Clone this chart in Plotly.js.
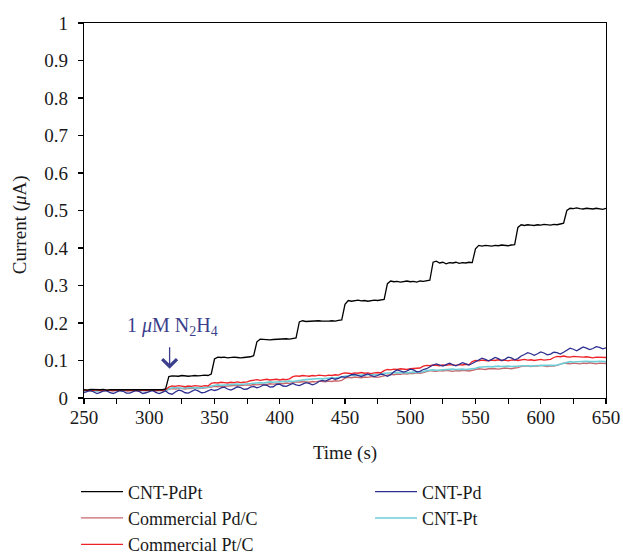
<!DOCTYPE html>
<html>
<head>
<meta charset="utf-8">
<script src="https://cdn.plot.ly/plotly-3.0.1.min.js"></script>
<style>
  html, body { margin: 0; padding: 0; background: #ffffff; }
  #chart { width: 623px; height: 555px; }
</style>
</head>
<body>
<div id="chart"></div>
<script>
// Amperometric response, one sample every 2.5 s from 250 s to 650 s
const T_START = 250;
const T_STEP = 2.5;

// Current (µA) for each electrode
const cntPdPt = [
  0.022,0.021,0.023,0.022,0.021,0.022,0.023,0.021,0.022,0.022,
  0.021,0.023,0.022,0.021,0.022,0.023,0.022,0.021,0.022,0.023,
  0.022,0.021,0.022,0.023,0.022,0.024,
  0.057,0.059,0.058,0.058,0.060,0.059,0.058,0.059,0.060,0.059,0.060,0.061,0.060,0.064,
  0.104,0.109,0.108,0.109,0.107,0.108,0.109,0.108,0.107,0.108,0.109,0.110,0.113,
  0.150,0.157,0.156,0.157,0.155,0.156,0.157,0.156,0.157,0.158,0.157,0.158,0.160,
  0.203,0.206,0.204,0.205,0.204,0.205,0.206,0.205,0.204,0.205,0.206,0.205,0.207,0.208,
  0.250,0.260,0.258,0.259,0.261,0.259,0.260,0.258,0.260,0.261,0.260,0.262,0.263,
  0.305,0.312,0.310,0.311,0.309,0.311,0.312,0.310,0.311,0.309,0.312,0.311,0.313,0.314,
  0.362,0.365,0.360,0.362,0.358,0.361,0.360,0.362,0.359,0.361,0.360,0.362,0.361,
  0.398,0.407,0.405,0.407,0.406,0.405,0.407,0.406,0.408,0.407,0.406,0.408,0.409,
  0.455,0.462,0.460,0.462,0.461,0.460,0.462,0.461,0.463,0.462,0.461,0.463,0.462,0.464,0.466,
  0.500,0.506,0.505,0.507,0.505,0.504,0.506,0.505,0.504,0.506,0.505,0.503,0.506
];

const cntPd = [
  0.014,0.018,0.020,0.016,0.012,0.015,0.019,0.019,0.014,0.012,
  0.016,0.020,0.018,0.013,0.013,0.017,0.020,0.017,0.012,0.014,
  0.018,0.020,0.015,0.012,0.015,0.019,
  0.012,0.010,0.016,0.021,0.019,0.014,0.013,0.018,0.022,0.019,0.014,0.015,0.020,0.023,
  0.020,0.022,0.027,0.029,0.024,0.021,0.025,0.030,0.028,0.023,0.024,0.029,0.031,
  0.027,0.030,0.035,0.034,0.029,0.030,0.036,0.037,0.032,0.031,
  0.036,0.039,0.035,0.033,0.037,0.041,0.039,0.035,0.038,
  0.044,0.047,0.045,0.049,0.053,0.050,0.052,0.057,0.055,
  0.058,0.062,0.063,0.059,0.057,0.061,0.064,0.060,0.057,0.060,0.064,0.062,0.058,0.062,
  0.070,0.075,0.073,0.069,0.072,0.077,0.075,0.070,0.071,0.076,0.078,
  0.084,0.088,0.091,0.087,0.085,0.089,0.093,0.089,0.086,0.090,0.094,0.091,0.088,0.092,0.097,
  0.101,0.106,0.103,0.099,0.103,0.108,0.105,0.100,0.103,0.109,0.107,0.102,0.105,0.112,
  0.116,0.121,0.118,0.114,0.118,0.123,0.120,0.115,0.117,0.122,0.121,0.117,0.122,
  0.128,0.133,0.130,0.126,0.131,0.136,0.133,0.129,0.132,0.137,0.135,0.131,0.134
];

const commercialPdC = [
  0.019,0.020,0.021,0.020,0.019,0.020,0.021,0.019,0.020,0.021,
  0.020,0.019,0.021,0.020,0.020,0.021,0.019,0.020,0.021,0.020,
  0.019,0.021,0.020,0.020,0.021,0.020,
  0.023,0.025,0.024,0.026,0.025,0.024,0.026,0.025,0.027,0.025,0.026,0.027,0.026,
  0.029,0.031,0.030,0.032,0.031,0.032,0.033,0.032,0.034,0.033,
  0.034,0.035,0.034,0.036,0.035,0.036,0.037,0.036,0.038,0.037,
  0.038,0.039,0.038,0.040,0.039,
  0.042,0.043,0.042,0.044,0.043,0.042,0.044,0.043,0.045,0.044,0.043,0.045,0.044,0.046,0.045,0.047,
  0.053,0.055,0.054,0.056,0.055,0.054,0.056,0.055,0.057,0.056,0.055,0.057,0.058,
  0.061,0.063,0.062,0.064,0.063,0.065,0.064,0.066,0.065,0.067,0.066,0.068,
  0.071,0.073,0.072,0.071,0.073,0.072,0.074,0.072,0.071,0.073,0.072,0.074,0.073,0.072,0.074,
  0.076,0.078,0.077,0.076,0.078,0.079,0.078,0.077,0.079,0.080,0.079,0.078,0.080,0.081,
  0.084,0.086,0.085,0.084,0.086,0.085,0.087,0.085,0.084,0.086,0.085,0.087,
  0.091,0.093,0.092,0.091,0.093,0.092,0.091,0.093,0.092,0.094,0.092,0.091,0.093,0.092,0.092
];

const cntPt = [
  0.019,0.020,0.019,0.018,0.019,0.020,0.020,0.019,0.018,0.019,
  0.020,0.020,0.019,0.018,0.019,0.020,0.019,0.019,0.018,0.019,
  0.020,0.020,0.019,0.019,0.020,0.021,
  0.025,0.027,0.028,0.027,0.026,0.027,0.028,0.028,0.027,0.026,0.027,0.028,0.029,
  0.032,0.034,0.035,0.034,0.035,0.036,0.035,0.036,0.037,0.036,0.037,0.038,0.037,0.038,
  0.040,0.041,0.040,0.042,0.043,0.042,0.043,0.044,0.043,0.044,0.045,0.044,0.046,0.046,
  0.048,0.049,0.050,0.050,0.051,0.052,0.051,0.052,0.053,0.054,0.053,0.055,0.056,
  0.059,0.060,0.061,0.060,0.061,0.062,0.061,0.062,0.063,0.062,0.063,0.063,
  0.066,0.067,0.066,0.067,0.068,0.067,0.068,0.067,0.068,0.069,0.068,0.069,0.070,
  0.073,0.074,0.075,0.074,0.075,0.076,0.075,0.076,0.077,0.076,0.077,0.077,0.076,0.077,0.078,0.079,
  0.082,0.083,0.083,0.084,0.083,0.084,0.085,0.084,0.085,0.085,
  0.084,0.085,0.086,0.085,0.086,0.086,0.085,0.086,0.087,0.086,
  0.087,0.087,0.086,0.087,0.088,0.090,
  0.094,0.096,0.097,0.096,0.097,0.098,0.097,0.098,0.097,0.096,0.097,0.098,0.097,0.097
];

const commercialPtC = [
  0.020,0.021,0.019,0.020,0.022,0.020,0.019,0.021,0.020,0.019,
  0.021,0.020,0.022,0.019,0.020,0.021,0.020,0.019,0.021,0.020,
  0.022,0.020,0.019,0.021,0.020,0.022,
  0.029,0.032,0.031,0.033,0.031,0.030,0.032,0.031,0.033,0.032,0.031,0.033,0.032,
  0.039,0.041,0.040,0.042,0.041,0.040,0.042,0.041,0.043,0.041,0.042,0.043,0.046,
  0.048,0.049,0.047,0.049,0.050,0.048,0.049,0.050,0.048,0.050,0.049,0.051,
  0.057,0.059,0.058,0.060,0.059,0.058,0.060,0.059,0.061,0.060,0.059,0.061,0.060,0.062,0.061,
  0.065,0.067,0.066,0.065,0.067,0.066,0.068,0.066,0.067,0.065,0.067,0.068,0.067,
  0.073,0.076,0.075,0.077,0.076,0.078,0.077,0.076,0.078,0.079,0.078,0.080,
  0.085,0.087,0.086,0.088,0.087,0.086,0.088,0.087,0.089,0.088,0.087,0.089,0.088,0.090,0.089,
  0.097,0.100,0.099,0.101,0.100,0.099,0.101,0.100,0.102,0.100,
  0.101,0.099,0.101,0.102,0.100,0.101,0.103,0.101,0.102,0.100,
  0.102,0.103,0.101,0.102,0.103,
  0.108,0.111,0.110,0.112,0.110,0.109,0.111,0.110,0.108,0.109,0.110,0.108,0.107,0.109,0.108,0.107,0.108
];

const time = cntPdPt.map((_, i) => T_START + i * T_STEP);

const xTickVals = [250, 300, 350, 400, 450, 500, 550, 600, 650];
const yTickVals = [0, 0.1, 0.2, 0.3, 0.4, 0.5, 0.6, 0.7, 0.8, 0.9, 1];

const FONT = 'Liberation Serif, Times New Roman, serif';
const TEXT = '#1a1a1a';

function series(name, y, color, width, legendId, rank) {
  return {
    type: 'scatter', mode: 'lines', name: name,
    x: time, y: y,
    line: { color: color, width: width },
    legend: legendId, legendrank: rank
  };
}

// drawing order: faint electrodes first, CNT-PdPt on top
const traces = [
  series('Commercial Pd/C', commercialPdC, '#c8676d', 1.3, 'legend', 2),
  series('CNT-Pt', cntPt, '#6fcfd8', 1.6, 'legend2', 2),
  series('Commercial Pt/C', commercialPtC, '#ee2328', 1.3, 'legend', 3),
  series('CNT-Pd', cntPd, '#2c2f8e', 1.3, 'legend2', 1),
  series('CNT-PdPt', cntPdPt, '#000000', 1.3, 'legend', 1)
];

const legendBase = {
  orientation: 'v',
  xanchor: 'left', yanchor: 'top',
  y: -0.201,
  itemwidth: 42,
  font: { family: FONT, size: 18, color: TEXT },
  bgcolor: 'rgba(0,0,0,0)', borderwidth: 0
};

const layout = {
  width: 623, height: 555,
  margin: { l: 84, r: 17, t: 23, b: 157, autoexpand: false },
  paper_bgcolor: '#ffffff', plot_bgcolor: '#ffffff',
  font: { family: FONT, size: 19, color: TEXT },
  showlegend: true,
  xaxis: {
    range: [250, 650], tickvals: xTickVals,
    ticks: 'outside', ticklen: 5, tickwidth: 1.2, tickcolor: '#000',
    minor: { dtick: 25, ticks: 'outside', ticklen: 5, tickwidth: 1.2, tickcolor: '#000' },
    showline: true, linecolor: '#000', linewidth: 1.3, mirror: true,
    showgrid: false, zeroline: false,
    tickfont: { family: FONT, size: 19, color: TEXT },
    ticklabelstandoff: -3,
    title: { text: 'Time (s)', font: { family: FONT, size: 19, color: TEXT }, standoff: 18 }
  },
  yaxis: {
    range: [0, 1], tickvals: yTickVals,
    ticks: 'outside', ticklen: 5, tickwidth: 1.2, tickcolor: '#000',
    showline: true, linecolor: '#000', linewidth: 1.3, mirror: true,
    showgrid: false, zeroline: false,
    tickfont: { family: FONT, size: 19, color: TEXT },
    ticklabelstandoff: 6
  },
  legend: Object.assign({}, legendBase, { x: -0.0153 }),
  legend2: Object.assign({}, legendBase, { x: 0.548 }),
  annotations: [
    {
      // y-axis title, set slightly below the axis midpoint
      x: -0.1226, y: 0.461, xref: 'paper', yref: 'paper',
      text: 'Current (<i>μ</i>A)', textangle: -90,
      showarrow: false, xanchor: 'center', yanchor: 'middle',
      font: { family: FONT, size: 19, color: TEXT }
    },
    {
      x: 318, y: 0.19, xref: 'x', yref: 'y',
      text: '1 <i>μ</i>M N<sub>2</sub>H<sub>4</sub>',
      showarrow: false, xanchor: 'center', yanchor: 'middle',
      font: { family: FONT, size: 20, color: '#3b3f8c' }
    },
    {
      x: 315.6, y: 0.078, xref: 'x', yref: 'y',
      text: '', showarrow: true,
      ax: 0, ay: -23,
      arrowhead: 4, arrowsize: 2.2, arrowwidth: 1.3, arrowcolor: '#3b3f8c'
    }
  ]
};

Plotly.newPlot('chart', traces, layout, { displayModeBar: false, staticPlot: true });
</script>
</body>
</html>
